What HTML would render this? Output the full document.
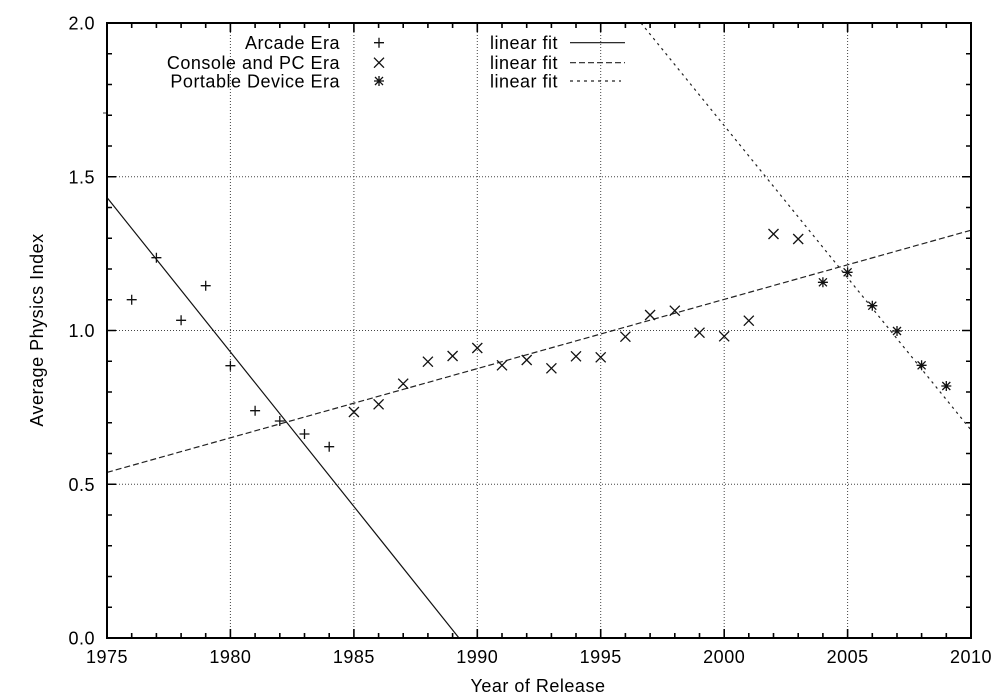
<!DOCTYPE html>
<html>
<head>
<meta charset="utf-8">
<style>
  html, body { margin: 0; padding: 0; background: #fff; }
  svg { display: block; }
  text { font-family: "Liberation Sans", "DejaVu Sans", sans-serif; font-size: 18px; fill: #000; letter-spacing: 0.5px; }
</style>
</head>
<body>
<svg width="1000" height="700" viewBox="0 0 1000 700" xmlns="http://www.w3.org/2000/svg">
  <rect x="0" y="0" width="1000" height="700" fill="#fff"/>
  <!-- grid -->
  <g stroke="#444" stroke-width="1" stroke-dasharray="1,2" fill="none">
    <path d="M230.4 32V629 M353.9 32V629 M477.3 32V629 M600.7 32V629 M724.2 32V629 M847.6 32V629"/>
    <path d="M116 484.25H962 M116 330.5H962 M116 176.75H962"/>
  </g>
  <!-- ticks -->
  <g stroke="#000" stroke-width="1.6" fill="none">
    <path d="M131.7 638V633 M156.4 638V633 M181.1 638V633 M205.7 638V633 M230.4 638V629 M255.1 638V633 M279.8 638V633 M304.5 638V633 M329.2 638V633 M353.9 638V629 M378.6 638V633 M403.2 638V633 M427.9 638V633 M452.6 638V633 M477.3 638V629 M502 638V633 M526.7 638V633 M551.4 638V633 M576 638V633 M600.7 638V629 M625.4 638V633 M650.1 638V633 M674.8 638V633 M699.5 638V633 M724.2 638V629 M748.8 638V633 M773.5 638V633 M798.2 638V633 M822.9 638V633 M847.6 638V629 M872.3 638V633 M897 638V633 M921.6 638V633 M946.3 638V633"/>
    <path d="M131.7 23V28 M156.4 23V28 M181.1 23V28 M205.7 23V28 M230.4 23V32 M255.1 23V28 M279.8 23V28 M304.5 23V28 M329.2 23V28 M353.9 23V32 M378.6 23V28 M403.2 23V28 M427.9 23V28 M452.6 23V28 M477.3 23V32 M502 23V28 M526.7 23V28 M551.4 23V28 M576 23V28 M600.7 23V32 M625.4 23V28 M650.1 23V28 M674.8 23V28 M699.5 23V28 M724.2 23V32 M748.8 23V28 M773.5 23V28 M798.2 23V28 M822.9 23V28 M847.6 23V32 M872.3 23V28 M897 23V28 M921.6 23V28 M946.3 23V28"/>
    <path d="M107 607.25H112 M107 576.5H112 M107 545.75H112 M107 515H112 M107 484.25H116 M107 453.5H112 M107 422.75H112 M107 392H112 M107 361.25H112 M107 330.5H116 M107 299.75H112 M107 269H112 M107 238.25H112 M107 207.5H112 M107 176.75H116 M107 146H112 M107 115.25H112 M107 84.5H112 M107 53.75H112"/>
    <path d="M971 607.25H966 M971 576.5H966 M971 545.75H966 M971 515H966 M971 484.25H962 M971 453.5H966 M971 422.75H966 M971 392H966 M971 361.25H966 M971 330.5H962 M971 299.75H966 M971 269H966 M971 238.25H966 M971 207.5H966 M971 176.75H962 M971 146H966 M971 115.25H966 M971 84.5H966 M971 53.75H966"/>
    <path d="M103 113H108" stroke="#555" stroke-width="1.2"/>
  </g>
  <!-- fit lines -->
  <defs>
    <clipPath id="pa"><rect x="107" y="23" width="864" height="615"/></clipPath>
  </defs>
  <g clip-path="url(#pa)" fill="none" stroke-width="1.2">
    <line x1="107" y1="197.5" x2="459" y2="638" stroke="#111"/>
    <line x1="107" y1="472.4" x2="971" y2="230.2" stroke="#222" stroke-dasharray="6,3"/>
    <line x1="641" y1="23" x2="971" y2="430" stroke="#222" stroke-dasharray="2.5,4"/>
  </g>
  <!-- Arcade + -->
  <g stroke="#111" stroke-width="1.3" fill="none">
    <path d="M126.7 299.7h10M131.7 294.7v10
             M151.4 257.7h10M156.4 252.7v10
             M176.1 320.3h10M181.1 315.3v10
             M200.7 285.7h10M205.7 280.7v10
             M225.4 365.7h10M230.4 360.7v10
             M250.1 410.7h10M255.1 405.7v10
             M274.8 421h10M279.8 416v10
             M299.5 434h10M304.5 429v10
             M324.2 446.7h10M329.2 441.7v10
             M374 42.7h10M379 37.7v10"/>
  </g>
  <!-- Console x -->
  <g stroke="#111" stroke-width="1.3" fill="none">
    <path d="M348.9 407l10 10M348.9 417l10 -10
             M373.6 399.3l10 10M373.6 409.3l10 -10
             M398.2 378.7l10 10M398.2 388.7l10 -10
             M422.9 356.7l10 10M422.9 366.7l10 -10
             M447.6 351l10 10M447.6 361l10 -10
             M472.3 343l10 10M472.3 353l10 -10
             M497 360.3l10 10M497 370.3l10 -10
             M521.7 355l10 10M521.7 365l10 -10
             M546.4 363.3l10 10M546.4 373.3l10 -10
             M571 351.3l10 10M571 361.3l10 -10
             M595.7 352.3l10 10M595.7 362.3l10 -10
             M620.4 331.7l10 10M620.4 341.7l10 -10
             M645.1 310l10 10M645.1 320l10 -10
             M669.8 305.7l10 10M669.8 315.7l10 -10
             M694.5 327.7l10 10M694.5 337.7l10 -10
             M719.2 331.3l10 10M719.2 341.3l10 -10
             M743.8 315.7l10 10M743.8 325.7l10 -10
             M768.5 229l10 10M768.5 239l10 -10
             M793.2 234l10 10M793.2 244l10 -10
             M374 57.7l10 10M374 67.7l10 -10"/>
  </g>
  <!-- Portable * -->
  <g stroke="#111" stroke-width="1.3" fill="none">
    <path d="M817.9 282.3h10M822.9 277.3v10M818.9 278.3l8 8M818.9 286.3l8 -8
             M842.6 272.3h10M847.6 267.3v10M843.6 268.3l8 8M843.6 276.3l8 -8
             M867.3 305.7h10M872.3 300.7v10M868.3 301.7l8 8M868.3 309.7l8 -8
             M892 331h10M897 326v10M893 327l8 8M893 335l8 -8
             M916.6 365.3h10M921.6 360.3v10M917.6 361.3l8 8M917.6 369.3l8 -8
             M941.3 386h10M946.3 381v10M942.3 382l8 8M942.3 390l8 -8
             M374 81h10M379 76v10M375 77l8 8M375 85l8 -8"/>
  </g>
  <!-- legend lines -->
  <g fill="none" stroke-width="1.2">
    <line x1="570" y1="42.7" x2="625" y2="42.7" stroke="#111"/>
    <line x1="570" y1="62.7" x2="625" y2="62.7" stroke="#222" stroke-dasharray="6,3"/>
    <line x1="570" y1="81" x2="621" y2="81" stroke="#222" stroke-dasharray="3,4"/>
  </g>
  <!-- legend text -->
  <g text-anchor="end">
    <text x="340" y="49">Arcade Era</text>
    <text x="340" y="69">Console and PC Era</text>
    <text x="340" y="87.5">Portable Device Era</text>
    <text x="558" y="49">linear fit</text>
    <text x="558" y="69">linear fit</text>
    <text x="558" y="87.5">linear fit</text>
  </g>
  <!-- border -->
  <rect x="107" y="23" width="864" height="615" fill="none" stroke="#000" stroke-width="2"/>
  <!-- y tick labels -->
  <g text-anchor="end">
    <text x="95" y="29.5">2.0</text>
    <text x="95" y="183.3">1.5</text>
    <text x="95" y="337">1.0</text>
    <text x="95" y="490.8">0.5</text>
    <text x="95" y="644.5">0.0</text>
  </g>
  <!-- x tick labels -->
  <g text-anchor="middle">
    <text x="107" y="663">1975</text>
    <text x="230.4" y="663">1980</text>
    <text x="353.9" y="663">1985</text>
    <text x="477.3" y="663">1990</text>
    <text x="600.7" y="663">1995</text>
    <text x="724.2" y="663">2000</text>
    <text x="847.6" y="663">2005</text>
    <text x="971" y="663">2010</text>
  </g>
  <!-- axis titles -->
  <text x="538" y="692" text-anchor="middle">Year of Release</text>
  <text transform="translate(43,330) rotate(-90)" text-anchor="middle">Average Physics Index</text>
</svg>
</body>
</html>
